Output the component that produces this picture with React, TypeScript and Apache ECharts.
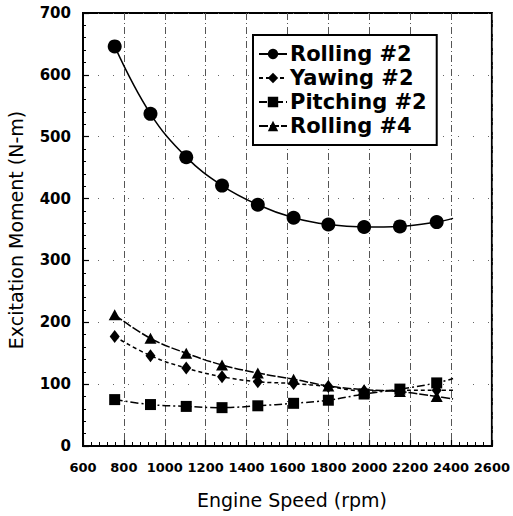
import React, { useEffect, useRef } from "react";
import * as echarts from "echarts";

const speeds = [755, 930, 1105, 1280, 1455, 1630, 1800, 1975, 2150, 2330];
const rolling2 = [646, 537, 467, 421, 390, 369, 358, 354, 355, 362];
const yawing2 = [177, 146, 126, 112, 104, 101, 96, 89, 90, 90];
const pitching2 = [75, 67, 64, 62, 65, 69, 74, 84, 92, 102];
const rolling4 = [212, 174, 150, 131, 118, 108, 97, 91, 88, 80];

// where the fitted curves end (no marker there)
const curveEndSpeed = 2410;
const curveEndValues = [368, 90, 109, 76];

const seriesNames = ["Rolling #2", "Yawing #2", "Pitching #2", "Rolling #4"];

const FONT = '"DejaVu Sans", "Liberation Sans", Arial, sans-serif';

function buildData(values: number[], endValue: number) {
  const pts: any[] = speeds.map((s, i) => [s, values[i]]);
  pts.push({ value: [curveEndSpeed, endValue], symbol: "none" });
  return pts;
}

export default function App() {
  const ref = useRef<HTMLDivElement>(null);
  useEffect(() => {
    document.body.style.margin = "0";
    if (!ref.current) return;
    const chart = echarts.init(ref.current, undefined, { renderer: "svg" });
    const mk = (
      name: string,
      values: number[],
      endValue: number,
      symbol: string,
      symbolSize: any,
      dash: any
    ) => ({
      name,
      type: "line",
      data: buildData(values, endValue),
      smooth: 0.4,
      symbol,
      symbolSize,
      showAllSymbol: true,
      itemStyle: { color: "#000" },
      lineStyle: { color: "#000", width: 1.5, type: dash },
      emphasis: { disabled: true },
    });
    chart.setOption({
      animation: false,
      backgroundColor: "#fff",
      grid: {
        left: 83,
        right: 15,
        top: 13,
        bottom: 70,
        show: true,
        borderColor: "#000",
        borderWidth: 2,
        backgroundColor: "transparent",
      },
      xAxis: {
        type: "value",
        min: 600,
        max: 2600,
        interval: 200,
        axisLine: { show: true, lineStyle: { color: "#000", width: 2 } },
        axisTick: { show: true, inside: true, length: 6, lineStyle: { color: "#000", width: 1.2 } },
        minorTick: { show: true, splitNumber: 5, length: 4, lineStyle: { color: "#000", width: 1 } },
        axisLabel: {
          color: "#000",
          fontFamily: FONT,
          fontSize: 13,
          fontWeight: "bold",
          margin: 15,
          showMaxLabel: true,
          showMinLabel: true,
          hideOverlap: false,
          formatter: (v: number) => String(v),
        },
        splitLine: {
          show: true,
          lineStyle: { color: "#555", width: 1, type: [7, 3, 1, 3] },
        },
      },
      yAxis: {
        type: "value",
        min: 0,
        max: 700,
        interval: 100,
        axisLine: { show: true, lineStyle: { color: "#000", width: 2 } },
        axisTick: { show: true, inside: true, length: 6, lineStyle: { color: "#000", width: 1.2 } },
        minorTick: { show: true, splitNumber: 5, length: 3, lineStyle: { color: "#000", width: 1 } },
        axisLabel: {
          color: "#000",
          fontFamily: FONT,
          fontSize: 15,
          fontWeight: "bold",
          margin: 12,
          formatter: (v: number) => String(v),
        },
        splitLine: {
          show: true,
          lineStyle: { color: "#666", width: 1, type: [1, 14] },
        },
      },
      legend: {
        orient: "vertical",
        left: 253,
        top: 35,
        backgroundColor: "#fff",
        borderColor: "#000",
        borderWidth: 2,
        borderRadius: 0,
        padding: [7, 10, 7, 5],
        itemWidth: 28,
        itemHeight: 13,
        itemGap: 0,
        data: seriesNames,
        textStyle: {
          color: "#000",
          fontFamily: FONT,
          fontSize: 21,
          fontWeight: "bold",
          lineHeight: 24,
          padding: [0, 0, 0, -2],
        },
        selectedMode: false,
      },
      graphic: [
        {
          type: "text",
          x: 16,
          y: 230,
          rotation: Math.PI / 2,
          style: {
            text: "Excitation Moment (N-m)",
            font: `19px ${FONT}`,
            fill: "#000",
            textAlign: "center",
            verticalAlign: "middle",
          },
        },
        {
          type: "text",
          x: 292,
          y: 500,
          style: {
            text: "Engine Speed (rpm)",
            font: `19px ${FONT}`,
            fill: "#000",
            textAlign: "center",
            verticalAlign: "middle",
          },
        },
      ],
      series: [
        mk(seriesNames[0], rolling2, curveEndValues[0], "circle", 14, "solid"),
        mk(seriesNames[1], yawing2, curveEndValues[1], "diamond", [10, 13], [4, 3]),
        mk(seriesNames[2], pitching2, curveEndValues[2], "rect", 11, [8, 3, 2, 3]),
        mk(seriesNames[3], rolling4, curveEndValues[3], "triangle", [12, 11], [9, 2]),
      ],
    });
    return () => chart.dispose();
  }, []);
  return <div ref={ref} style={{ width: 513, height: 516 }} />;
}
